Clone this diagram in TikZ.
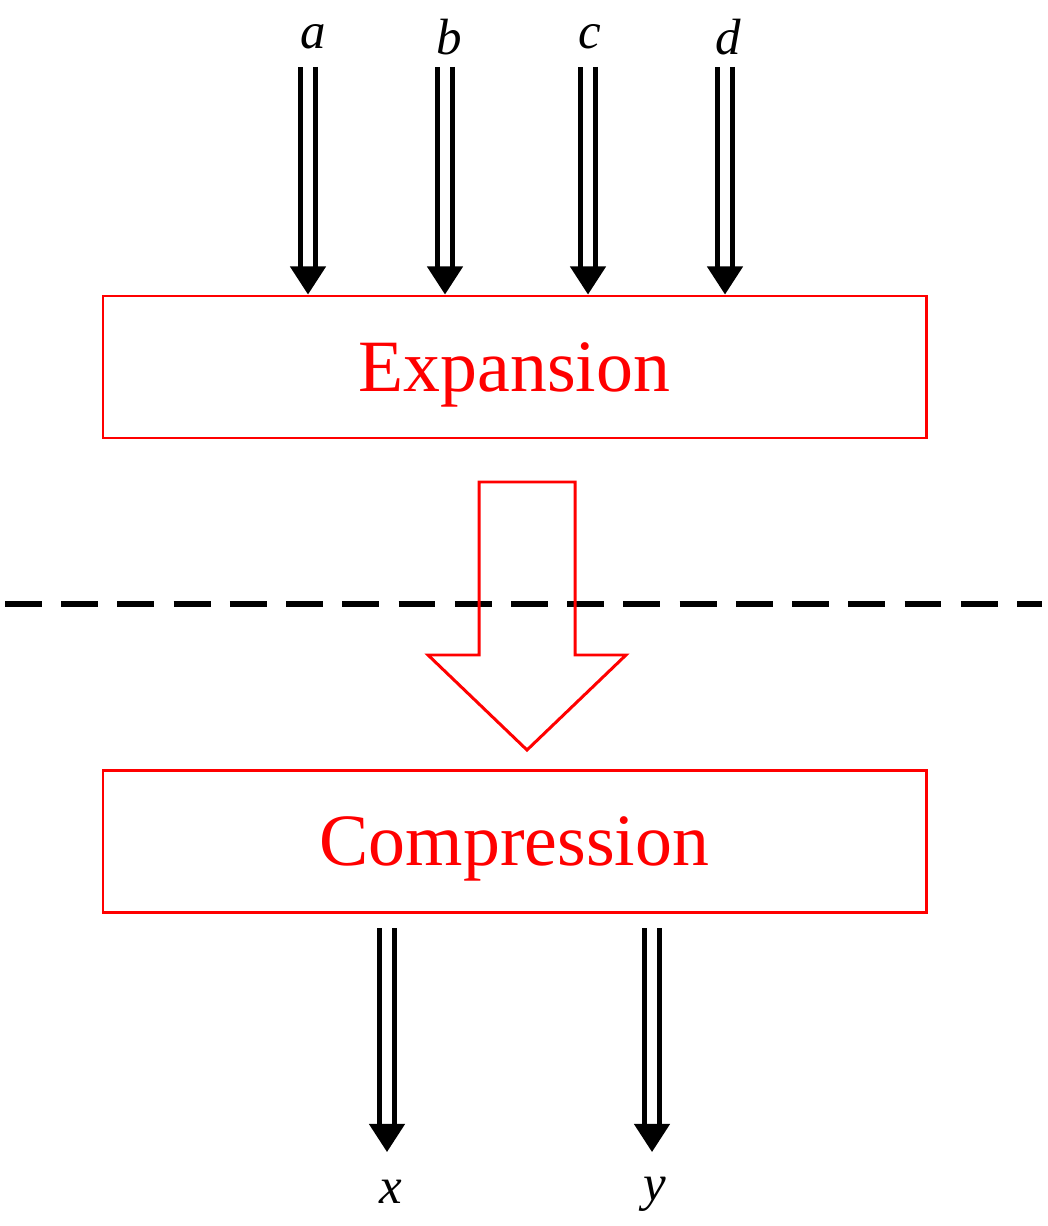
\documentclass[tikz,border=0pt]{standalone}
\usepackage{fontspec}
\setmainfont{Liberation Serif}
\usetikzlibrary{arrows.meta,positioning}

\begin{document}
\begin{tikzpicture}[
    x=0.02cm, y=-0.02cm,
    stagebox/.style={
        rectangle,
        draw=red,
        line width=1.7pt,
        minimum width=823*0.02cm,
        minimum height=142*0.02cm,
        text=red,
        text depth=0pt,
        font=\fontsize{42}{48}\selectfont,
    },
    varlabel/.style={
        font=\fontsize{29}{32}\selectfont\itshape,
        inner sep=0pt,
    },
    wire/.style={
        double,
        double distance=6pt,
        line width=2.6pt,
        -{Triangle[length=16pt, width=20pt]},
    },
]
\useasboundingbox (0,0) rectangle (1047,1226);

% === Boxes ===
\node[stagebox] (exp) at (514.5,367) {Expansion};
\node[stagebox] (comp) at (514.5,841) {Compression};

% === Inputs ===
\node[varlabel] (a) at (313,37) {a};
\node[varlabel] (b) at (449,37) {b};
\node[varlabel] (c) at (590,37) {c};
\node[varlabel] (d) at (728,37) {d};
\coordinate (ta) at (308,67);
\coordinate (tb) at (445,67);
\coordinate (tc) at (588,67);
\coordinate (td) at (725,67);
\foreach \v in {a,b,c,d}
    \draw[wire] (t\v) -- (t\v |- exp.north);

% === Outputs ===
\node[varlabel] (x) at (391,1192) {x};
\node[varlabel] (y) at (655,1194) {y};
\coordinate (sx) at (387,928);
\coordinate (sy) at (652,928);
\foreach \v in {x,y}
    \draw[wire] (s\v) -- (s\v |- 0,1152);

% === Boundary ===
\draw[line width=3pt, dash pattern=on 21pt off 11pt] (5,604) -- (1042,604);

% === Hollow arrow ===
\draw[red, line width=1.7pt] (479,482) -- (575,482) -- (575,655) -- (626,655)
    -- (527,750) -- (428,655) -- (479,655) -- cycle;

\end{tikzpicture}
\end{document}
